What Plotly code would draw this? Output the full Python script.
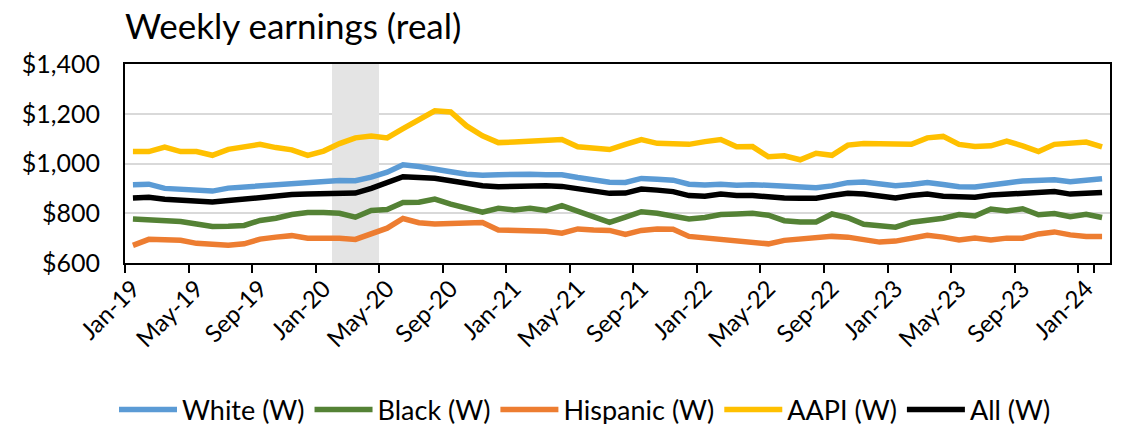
import pandas as pd
import plotly.graph_objects as go

# Monthly categories, Jan-19 .. Feb-24
months = pd.date_range("2019-01-01", periods=62, freq="MS").strftime("%b-%y").tolist()

white = [915, 917, 900, 895, 891, 889, 901, 905, 912, 918, 921, 924,
         928, 932, 931, 945, 965, 995, 988, 980, 967, 957, 953, 955,
         958, 957, 955, 955, 944, 933, 925, 924, 940, 937, 933, 917,
         914, 917, 913, 915, 912, 911, 906, 903, 910, 923, 926, 919,
         911, 916, 924, 916, 907, 906, 916, 922, 930, 933, 935, 927,
         933, 939]
black = [777, 773, 773, 767, 757, 747, 748, 751, 771, 780, 795, 803,
         803, 800, 784, 811, 815, 843, 844, 857, 837, 820, 804, 820,
         813, 820, 811, 831, 808, 787, 763, 784, 806, 800, 788, 777,
         783, 795, 797, 800, 792, 770, 765, 765, 797, 782, 756, 749,
         744, 764, 772, 780, 795, 789, 817, 809, 818, 794, 799, 786,
         796, 783]
hispanic = [671, 695, 693, 691, 679, 674, 671, 677, 696, 704, 710, 700,
            701, 699, 695, 715, 740, 779, 762, 757, 759, 762, 763, 733,
            733, 728, 728, 720, 737, 733, 731, 715, 731, 737, 736, 707,
            701, 697, 693, 688, 677, 691, 697, 704, 707, 704, 693, 684,
            688, 700, 711, 704, 693, 700, 693, 700, 700, 717, 725, 713,
            707, 707]
aapi = [1048, 1048, 1066, 1048, 1048, 1033, 1057, 1068, 1077, 1064, 1055, 1033,
        1050, 1080, 1103, 1110, 1103, 1140, 1177, 1212, 1207, 1151, 1111, 1084,
        1086, 1091, 1096, 1096, 1067, 1060, 1056, 1077, 1096, 1081, 1077, 1077,
        1088, 1096, 1067, 1068, 1027, 1031, 1015, 1041, 1033, 1074, 1080, 1080,
        1075, 1077, 1103, 1109, 1077, 1068, 1071, 1090, 1071, 1048, 1077, 1081,
        1086, 1067]
all_w = [861, 864, 856, 851, 848, 845, 851, 857, 868, 872, 875, 877,
         880, 882, 881, 900, 924, 947, 944, 941, 931, 920, 911, 907,
         909, 911, 911, 908, 897, 887, 880, 881, 897, 893, 887, 871,
         868, 877, 871, 871, 864, 861, 860, 860, 871, 880, 877, 868,
         861, 871, 877, 868, 864, 864, 873, 877, 883, 884, 887, 877,
         881, 883]

# recession months (shaded)
recession = ["Feb-20", "Mar-20", "Apr-20"]

series = [
    ("White (W)", white, "#5B9BD5"),
    ("Black (W)", black, "#548235"),
    ("Hispanic (W)", hispanic, "#ED7D31"),
    ("AAPI (W)", aapi, "#FFC000"),
    ("All (W)", all_w, "#000000"),
]

FONT = "Lato"

fig = go.Figure()

# shading as a column series, like the spreadsheet does it
fig.add_trace(go.Bar(x=months,
                     y=[1400 if m in recession else None for m in months],
                     base=600, marker_color="#e4e4e4", marker_line_width=0,
                     width=1, showlegend=False, hoverinfo="skip"))

for name, vals, color in series:
    fig.add_trace(go.Scatter(x=months, y=vals, mode="lines", name=name,
                             line=dict(color=color, width=5.5)))

fig.update_xaxes(type="category",
                 range=[-0.5, len(months) - 0.5],
                 tickmode="array",
                 tickvals=months[::4],
                 tickson="boundaries",
                 tickangle=-45,
                 ticks="outside", ticklen=8, tickwidth=1.5, tickcolor="black",
                 showline=True, linecolor="black", linewidth=2, mirror=True,
                 showgrid=False, automargin=False,
                 tickfont=dict(family=FONT, size=24, color="black"))

fig.update_yaxes(range=[600, 1400], dtick=200,
                 tickprefix="$", tickformat=",d",
                 showline=True, linecolor="black", linewidth=2, mirror=True,
                 showgrid=True, gridcolor="#d9d9d9", gridwidth=1.5,
                 ticks="outside", ticklen=18, tickcolor="rgba(0,0,0,0)",
                 automargin=False, zeroline=False,
                 tickfont=dict(family=FONT, size=25, color="black"))

fig.update_layout(
    width=1124, height=424,
    margin=dict(l=125, r=14, t=64, b=161),
    paper_bgcolor="white", plot_bgcolor="white",
    bargap=0,
    title=dict(text="Weekly earnings (real)",
               font=dict(family=FONT, size=35, color="black"),
               x=125 / 1124, xanchor="left",
               y=1 - 27 / 424, yanchor="middle"),
    legend=dict(orientation="h",
                xref="container", x=585 / 1124, xanchor="center",
                yref="container", y=1 - 410 / 424, yanchor="middle",
                font=dict(family=FONT, size=27, color="black"),
                itemwidth=58, bgcolor="rgba(0,0,0,0)"),
)

fig.write_html("out.html",
               config={"displayModeBar": False},
               post_script="document.body.style.margin='0';"
                           "document.body.style.overflow='hidden';")
